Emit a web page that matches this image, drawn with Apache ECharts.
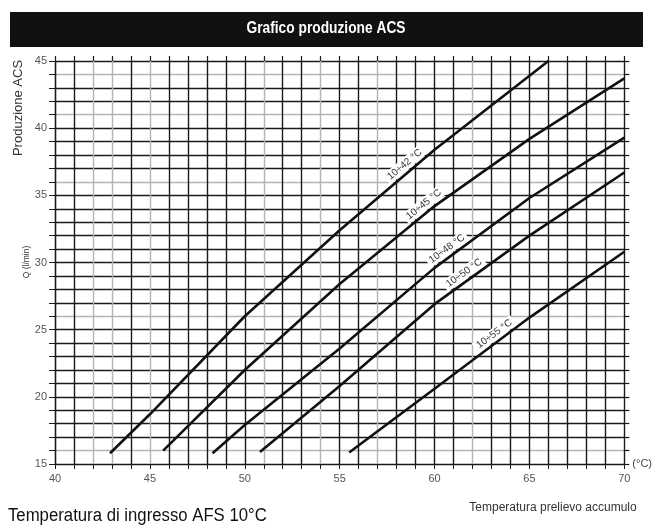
<!DOCTYPE html>
<html><head><meta charset="utf-8">
<script src="https://cdn.jsdelivr.net/npm/echarts@6/dist/echarts.min.js"></script>
<style>html,body{margin:0;padding:0;background:#fff}#c{width:655px;height:526px}</style>
</head><body><div id="c"></div>
<script>
// ---- data ----
const xMin = 40, xMax = 70, yMin = 15, yMax = 45;
const xTickLabels = [40, 45, 50, 55, 60, 65, 70];
const yTickLabels = [15, 20, 25, 30, 35, 40, 45];

const curve42x = [42.9, 45, 50, 55, 60, 66];
const curve42y = [15.8, 18.7, 26.0, 32.4, 38.4, 45.0];
const curve45x = [45.7, 50, 55, 60, 65, 70];
const curve45y = [16.0, 22.0, 28.4, 34.2, 39.2, 43.7];
const curve48x = [48.3, 50, 55, 60, 65, 70];
const curve48y = [15.8, 17.9, 23.6, 29.6, 34.8, 39.3];
const curve50x = [50.8, 55, 60, 65, 70];
const curve50y = [15.9, 20.8, 26.9, 32.0, 36.7];
const curve55x = [55.5, 60, 65, 70];
const curve55y = [15.85, 20.6, 25.9, 30.8];

const curveNames = ['10÷42 °C', '10÷45 °C', '10÷48 °C', '10÷50 °C', '10÷55 °C'];
const labelAtX = [58.7, 59.7, 60.9, 61.8, 63.4];

const titleText = 'Grafico produzione ACS';
const yName = 'Produzione ACS';
const yUnit = 'Q (l/min)';
const xUnit = '(°C)';
const xName = 'Temperatura prelievo accumulo';
const footText = 'Temperatura di ingresso AFS 10°C';

// ---- layout ----
const G = {left: 55, right: 26, top: 61, bottom: 62};
const W = 655, H = 526;
const plotW = W - G.left - G.right, plotH = H - G.top - G.bottom;
const aspect = (plotH / (yMax - yMin)) / (plotW / (xMax - xMin));

const D = '#1a1a1a', L = '#b4b4b4';
const xLineColors = [D,D,L,L,D,L,D,D,D,D,D,L,D,D,L,D,D,L,D,D,D,D,L,D,D,D,D,D,D,D,D];
const yLineColors = [D,L,D,D,D,D,D,D,D,D,D,L,D,D,D,D,D,D,D,D,D,L,D,D,D,D,L,D,D,L,D];

const xsList = [curve42x, curve45x, curve48x, curve50x, curve55x];
const ysList = [curve42y, curve45y, curve48y, curve50y, curve55y];

function interp(xs, ys, x) {
  for (let i = 0; i < xs.length - 1; i++) {
    if (x >= xs[i] && x <= xs[i + 1]) {
      const s = (ys[i + 1] - ys[i]) / (xs[i + 1] - xs[i]);
      return [ys[i] + s * (x - xs[i]), s];
    }
  }
  return [ys[ys.length - 1], 1];
}

const font = 'Liberation Sans, Arial, sans-serif';
const series = curveNames.map((name, k) => {
  const xs = xsList[k], ys = ysList[k];
  const [ly, s] = interp(xs, ys, labelAtX[k]);
  const ang = Math.atan(s * aspect) * 180 / Math.PI;
  return {
    type: 'line', name, silent: true, symbol: 'none', animation: false, z: 5,
    data: xs.map((x, i) => [x, ys[i]]),
    lineStyle: {color: '#111', width: 2.6},
    markPoint: {
      symbol: 'circle', symbolSize: 0, silent: true, animation: false,
      data: [{coord: [labelAtX[k], ly], name}],
      label: {
        show: true, formatter: name, rotate: ang, offset: [0, -8],
        fontFamily: font, fontSize: 10, color: '#333',
        backgroundColor: '#fff', padding: [1, 3]
      }
    }
  };
});

const chart = echarts.init(document.getElementById('c'), null, {renderer: 'canvas'});
chart.setOption({
  animation: false,
  backgroundColor: '#fff',
  grid: G,
  xAxis: [{
    type: 'value', min: xMin, max: xMax, interval: 1,
    name: xUnit, nameLocation: 'end', nameGap: 8,
    nameTextStyle: {fontFamily: font, fontSize: 11, color: '#444', padding: [2, 0, 0, 0]},
    axisLine: {show: true, lineStyle: {color: D, width: 1.2}},
    axisTick: {show: true, length: 5, lineStyle: {color: D}},
    axisLabel: {
      interval: 4, margin: 9, fontFamily: font, fontSize: 11, color: '#555',
      formatter: v => xTickLabels.indexOf(v) >= 0 ? String(v) : ''
    },
    splitLine: {show: true, lineStyle: {color: xLineColors, width: 1.4}}
  }, {
    type: 'value', min: xMin, max: xMax, interval: 1, position: 'top',
    axisLine: {show: false}, axisLabel: {show: false}, splitLine: {show: false},
    axisTick: {show: true, length: 5, lineStyle: {color: D, width: 1.2}}
  }],
  yAxis: [{
    type: 'value', min: yMin, max: yMax, interval: 1,
    axisLine: {show: true, lineStyle: {color: D, width: 1.2}},
    axisTick: {show: true, length: 6, lineStyle: {color: D}},
    axisLabel: {
      interval: 4, margin: 8, fontFamily: font, fontSize: 11, color: '#555',
      formatter: v => yTickLabels.indexOf(v) >= 0 ? String(v) : ''
    },
    splitLine: {show: true, lineStyle: {color: yLineColors, width: 1.4}}
  }, {
    type: 'value', min: yMin, max: yMax, interval: 1, position: 'right',
    axisLine: {show: false}, axisLabel: {show: false}, splitLine: {show: false},
    axisTick: {show: true, length: 5, lineStyle: {color: D, width: 1.2}}
  }],
  series,
  graphic: [
    {type: 'rect', shape: {x: 10, y: 12, width: 633, height: 35}, style: {fill: '#111'}, silent: true},
    {type: 'text', x: 326, y: 29, scaleX: 0.86, style: {text: titleText, fill: '#fff', font: 'bold 16px "Liberation Sans", Arial', align: 'center', verticalAlign: 'middle'}, silent: true},
    {type: 'text', x: 18, y: 108, rotation: Math.PI / 2, style: {text: yName, fill: '#333', font: '13px "Liberation Sans", Arial', align: 'center', verticalAlign: 'middle'}, silent: true},
    {type: 'text', x: 27, y: 262, rotation: Math.PI / 2, style: {text: yUnit, fill: '#333', font: '8.5px "Liberation Sans", Arial', align: 'center', verticalAlign: 'middle'}, silent: true},
    {type: 'text', x: 553, y: 508, style: {text: xName, fill: '#333', font: '12px "Liberation Sans", Arial', align: 'center', verticalAlign: 'middle'}, silent: true},
    {type: 'text', x: 8, y: 516, scaleX: 0.93, style: {text: footText, fill: '#111', font: '18px "Liberation Sans", Arial', align: 'left', verticalAlign: 'middle'}, silent: true}
  ]
});
</script>
</body></html>
